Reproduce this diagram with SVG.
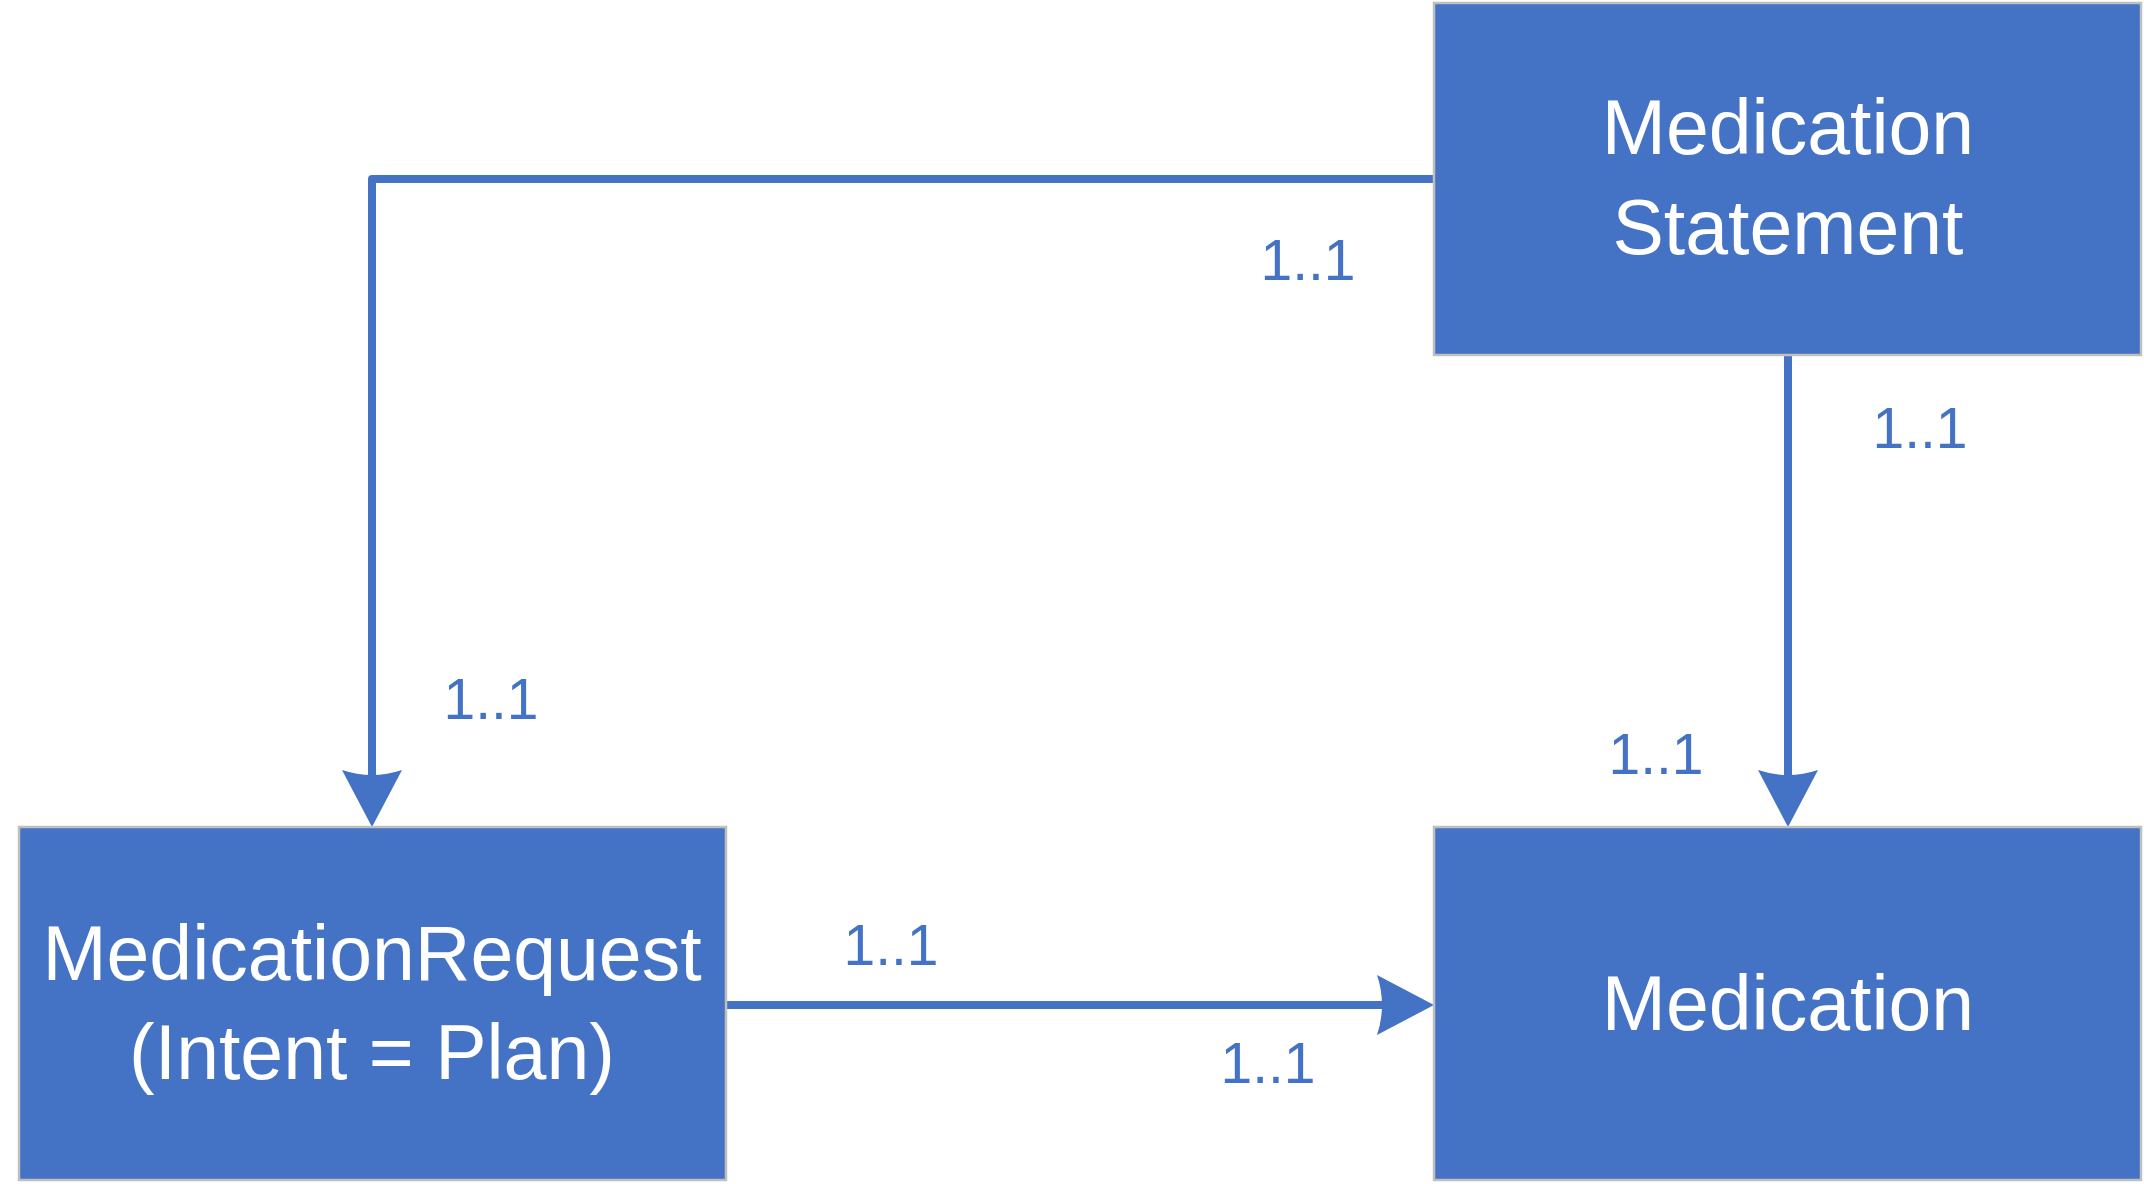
<svg xmlns="http://www.w3.org/2000/svg" width="2144" height="1184" viewBox="0 0 2144 1184">
<style>
.box{fill:#4472C4;stroke:#BFBFBF;stroke-width:2.5}
.nt{fill:#FFFFFF;font-family:"Liberation Sans",Arial,sans-serif;font-size:77px;text-anchor:middle}
.conn{fill:none;stroke:#4472C4;stroke-width:8;stroke-linejoin:round}
.lbl{fill:#4472C4;font-family:"Liberation Sans",Arial,sans-serif;font-size:57px;text-anchor:middle}
</style>
<defs>
<marker id="arr" markerUnits="userSpaceOnUse" viewBox="-60 -32 62 64" markerWidth="62" markerHeight="64" refX="-50" refY="0" orient="auto">
<path d="M0,0 L-57,-30 Q-47,0 -57,30 Z" fill="#4472C4"/>
</marker>
</defs>
<rect width="2144" height="1184" fill="#FFFFFF"/>
<g id="connectors">
<path class="conn" d="M1434,179 L372,179 L372,777" marker-end="url(#arr)"/>
<path class="conn" d="M1788,355 L1788,777" marker-end="url(#arr)"/>
<path class="conn" d="M726,1005 L1384,1005" marker-end="url(#arr)"/>
</g>
<g id="medication-statement">
<rect class="box" x="1434" y="3" width="707" height="352"/>
<text class="nt" x="1788" y="154">Medication</text>
<text class="nt" x="1788" y="254">Statement</text>
</g>
<g id="medication-request">
<rect class="box" x="19" y="827" width="707" height="353"/>
<text class="nt" x="372" y="980">MedicationRequest</text>
<text class="nt" x="372" y="1079">(Intent = Plan)</text>
</g>
<g id="medication">
<rect class="box" x="1434" y="827" width="707" height="353"/>
<text class="nt" x="1788" y="1030">Medication</text>
</g>
<g id="labels">
<text class="lbl" x="1308" y="280">1..1</text>
<text class="lbl" x="1920" y="448">1..1</text>
<text class="lbl" x="491" y="719">1..1</text>
<text class="lbl" x="1656" y="774">1..1</text>
<text class="lbl" x="891" y="965">1..1</text>
<text class="lbl" x="1268" y="1083">1..1</text>
</g>
</svg>
